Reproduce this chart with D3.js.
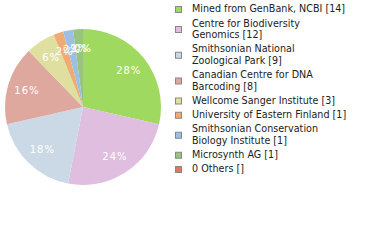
<!DOCTYPE html>
<html>
<head>
<meta charset="utf-8">
<script src="https://cdn.jsdelivr.net/npm/d3@7"></script>
<style>
  body { margin:0; background:#fff; }
  svg { display:block; }
</style>
</head>
<body>
<div id="chart"></div>
<script>
// names, counts, colours
var names = ["Mined from GenBank, NCBI", "Centre for Biodiversity Genomics", "Smithsonian National Zoological Park",
  "Canadian Centre for DNA Barcoding", "Wellcome Sanger Institute", "University of Eastern Finland",
  "Smithsonian Conservation Biology Institute", "Microsynth AG", "0 Others"]
var counts = [14, 12, 9, 8, 3, 1, 1, 1, 0]
// legend lines as drawn (wrapped)
var legendLines = [["Mined from GenBank, NCBI [14]"], ["Centre for Biodiversity", "Genomics [12]"],
  ["Smithsonian National", "Zoological Park [9]"], ["Canadian Centre for DNA", "Barcoding [8]"],
  ["Wellcome Sanger Institute [3]"], ["University of Eastern Finland [1]"],
  ["Smithsonian Conservation", "Biology Institute [1]"], ["Microsynth AG [1]"], ["0 Others []"]]
var colors = ["#9fd95f", "#dfbedf", "#cbd8e5", "#dea89e", "#dfe09f", "#eeab73", "#9dbfe3", "#99c47e", "#df7858"]

var width = 380
var height = 240
var cx = 83, cy = 107, r = 78

var svg = d3.select("#chart").append("svg")
    .attr("width", width)
    .attr("height", height)

var total = d3.sum(counts)
var pie = d3.pie().sort(null).value(function(d){ return d })
var arcs = pie(counts)
var arc = d3.arc().innerRadius(0).outerRadius(r)
var labelArc = d3.arc().innerRadius(r*0.75).outerRadius(r*0.75)

var g = svg.append("g").attr("transform", "translate(" + cx + "," + cy + ")")
g.selectAll("path")
    .data(arcs)
    .enter().append("path")
    .attr("d", arc)
    .attr("fill", function(d, i){ return colors[i] })

g.selectAll("text")
    .data(arcs)
    .enter().append("text")
    .attr("transform", function(d){ return "translate(" + labelArc.centroid(d) + ")" })
    .attr("text-anchor", "middle")
    .attr("dy", "0.35em")
    .attr("fill", "#fff")
    .style("font-family", "DejaVu Sans, Verdana, sans-serif")
    .style("font-size", "10px")
    .style("letter-spacing", "1px")
    .text(function(d){ return Math.floor(d.value / total * 100) + "%" })

// legend
var lineH = 11.5, gap = 14.25
var leg = svg.append("g")
var y = 9
legendLines.forEach(function(lines, i){
  var mid = y + (lines.length - 1) * lineH / 2
  leg.append("rect")
      .attr("x", 175.5).attr("y", mid - 2.5)
      .attr("width", 6).attr("height", 6)
      .attr("fill", colors[i])
      .attr("stroke", "#888").attr("stroke-width", 1)
  lines.forEach(function(t, j){
    leg.append("text")
        .attr("x", 192).attr("y", y + j * lineH)
        .attr("dy", "0.35em")
        .attr("fill", "#222")
        .style("font-family", "DejaVu Sans, Verdana, sans-serif")
        .style("font-size", "9.6px")
        .text(t)
  })
  y += (lines.length - 1) * lineH + gap
})
</script>
</body>
</html>
